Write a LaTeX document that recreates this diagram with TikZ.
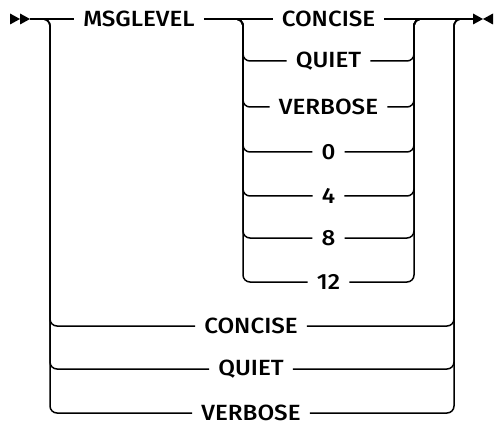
\documentclass[tikz,border=0pt]{standalone}
\usepackage{fontspec}
\setmainfont{Fira Sans}[UprightFont=* Medium, FakeStretch=1.1]
\begin{document}
\begin{tikzpicture}[x=1pt,y=-1pt,
  line/.style={line width=1.5pt, rounded corners=7pt},
  kw/.style={font=\fontsize{22}{26}\selectfont, inner xsep=9pt, inner ysep=0pt, anchor=center},
  tip/.style={fill=black, draw=none}]
\useasboundingbox (0,0) rectangle (495,422);
% junction coordinates
\coordinate (s) at (30,19);
\coordinate (e) at (473,19);
\coordinate (A) at (50,19);   \coordinate (Am) at (40,19);
\coordinate (B) at (454,19);  \coordinate (Bp) at (464,19);
\coordinate (C) at (243,19);  \coordinate (Cm) at (233,19);
\coordinate (D) at (414,19);  \coordinate (Dp) at (424,19);
% keywords
\node[kw] (msg) at (139,19) {MSGLEVEL};
\node[kw] (i1) at (328.5,19) {CONCISE};
\node[kw] (i2) at (328.5,61) {QUIET};
\node[kw] (i3) at (328.5,107) {VERBOSE};
\node[kw] (i4) at (328.5,152) {0};
\node[kw] (i5) at (328.5,196) {4};
\node[kw] (i6) at (328.5,238) {8};
\node[kw] (i7) at (328.5,282) {12};
\node[kw] (o1) at (251,326) {CONCISE};
\node[kw] (o2) at (251,369) {QUIET};
\node[kw] (o3) at (251,413) {VERBOSE};
% main line
\draw[line] (s) -- (msg.west);
\draw[line] (msg.east) -- (i1.west);
\draw[line] (i1.east) -- (e);
% inner choices
\foreach \n in {i2,i3,i4,i5,i6,i7}{
  \draw[line] (Cm) -- (C) |- (\n.west);
  \draw[line] (\n.east) -| (D) -- (Dp);
}
% outer choices
\foreach \n in {o1,o2,o3}{
  \draw[line] (Am) -- (A) |- (\n.west);
  \draw[line] (\n.east) -| (B) -- (Bp);
}
% start and end marks
\fill[tip] (10,13.5) -- (20,19) -- (10,24.5) -- cycle;
\fill[tip] (20,13.5) -- (30,19) -- (20,24.5) -- cycle;
\fill[tip] (473,13.5) -- (483,19) -- (473,24.5) -- cycle;
\fill[tip] (493,13.5) -- (483,19) -- (493,24.5) -- cycle;
\end{tikzpicture}
\end{document}
